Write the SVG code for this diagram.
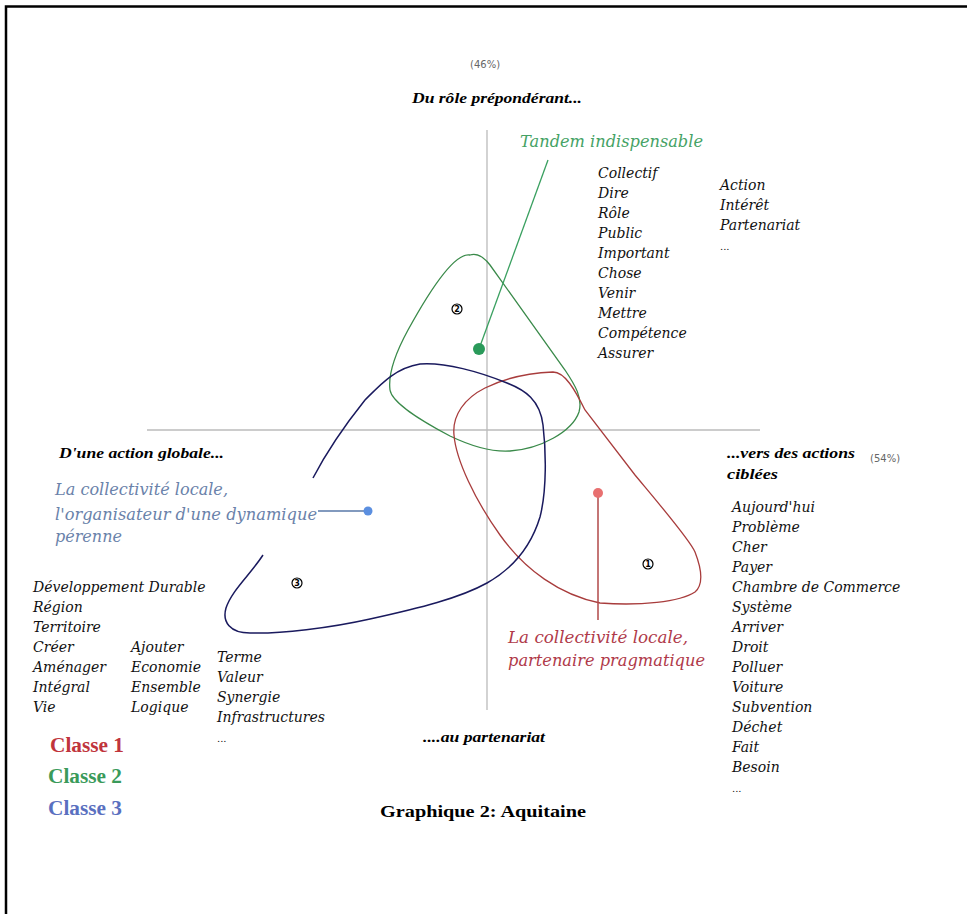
<svg xmlns="http://www.w3.org/2000/svg" width="967" height="914" viewBox="0 0 967 914">
<style>
.w{font-family:"DejaVu Serif","Liberation Serif",serif;font-style:italic;font-size:14px;fill:#111}
.h{font-family:"Liberation Serif","DejaVu Serif",serif;font-style:italic;font-weight:bold;font-size:15.5px;fill:#000}
.pc{font-family:"DejaVu Sans","Liberation Sans",sans-serif;font-size:10px;fill:#666}
.lab{font-family:"DejaVu Serif","Liberation Serif",serif;font-style:italic;font-size:16px}
.cls{font-family:"Liberation Serif","Times New Roman",serif;font-weight:bold;font-size:20px}
.num{font-family:"DejaVu Sans","Liberation Sans",sans-serif;font-size:8px;font-weight:bold;text-anchor:middle;fill:#000}
.axis{stroke:#bbbbbb;stroke-width:1.3;fill:none}
</style>
<rect width="967" height="914" fill="#fff"/>
<path d="M6,914 V6.5 H967" stroke="#000" stroke-width="2.5" fill="none"/>

<g id="axes">
<line class="axis" x1="487" y1="130" x2="487" y2="710"/>
<line class="axis" x1="147" y1="430" x2="760" y2="430"/>
</g>

<g id="connectors">
<path id="class2-curve" d="M470,255 C455,252 430,290 408,330 C396,352 388,375 390,390 C392,403 420,420 450,436 C475,448 495,452 510,451 C540,449 572,432 579,412 C583,398 575,385 565,370 L490,265 C483,256 476,253 470,255 Z" fill="none" stroke="#3a8a4a" stroke-width="1.3"/>
<path id="class1-curve" d="M553,372 C530,373 505,378 485,388 C465,398 452,415 454,435 C456,460 475,500 500,535 C525,570 560,595 600,603 C640,606 680,602 695,592 C703,585 702,570 695,552 C690,540 660,505 635,475 L585,410 C575,390 565,372 553,372 Z" fill="none" stroke="#a83c3c" stroke-width="1.3"/>
<path id="class3-curve" d="M313,478 C325,455 345,425 365,400 C380,385 395,368 420,364 C445,362 480,372 507,383 C525,390 540,400 543,425 C546,450 547,490 540,517 C530,550 510,570 487,583 C460,598 420,608 370,619 C330,628 280,634 250,633 C230,633 222,622 226,608 C232,590 250,575 263,555" fill="none" stroke="#1a1a5e" stroke-width="1.5"/>
<line x1="479" y1="349" x2="548" y2="160" stroke="#3aa060" stroke-width="1.3"/>
<line x1="598" y1="493" x2="598" y2="620" stroke="#b04848" stroke-width="1.5"/>
<line x1="318" y1="511" x2="368" y2="511" stroke="#5878a8" stroke-width="1.3"/>
</g>

<g id="markers">
<circle cx="479" cy="349" r="6" fill="#2a9a5a"/>
<circle cx="598" cy="493" r="5" fill="#e87070"/>
<circle cx="368" cy="511" r="4.5" fill="#5b8fe0"/>
<g id="n2"><circle cx="457" cy="309" r="5" fill="none" stroke="#000" stroke-width="1.2"/><text class="num" x="457" y="312">2</text></g>
<g id="n1"><circle cx="648" cy="564" r="5" fill="none" stroke="#000" stroke-width="1.2"/><text class="num" x="648" y="567">1</text></g>
<g id="n3"><circle cx="297" cy="583" r="5" fill="none" stroke="#000" stroke-width="1.2"/><text class="num" x="297" y="586">3</text></g>
</g>

<g id="axis-labels">
<text class="pc" x="470" y="68">(46%)</text>
<text class="h" x="412" y="103" textLength="170" lengthAdjust="spacingAndGlyphs">Du rôle prépondérant...</text>
<text class="h" x="59" y="458" textLength="165" lengthAdjust="spacingAndGlyphs">D'une action globale...</text>
<text class="h" x="727" y="458" textLength="128" lengthAdjust="spacingAndGlyphs">...vers des actions</text>
<text class="h" x="727" y="479" textLength="51" lengthAdjust="spacingAndGlyphs">ciblées</text>
<text class="pc" x="870" y="462">(54%)</text>
<text class="h" x="423" y="742" textLength="122" lengthAdjust="spacingAndGlyphs">....au partenariat</text>
</g>

<g id="label-class2">
<text class="lab" x="520" y="147" fill="#45a265" textLength="183" lengthAdjust="spacingAndGlyphs">Tandem indispensable</text>
</g>
<g id="label-class3" class="lab" fill="#6a82aa">
<text x="55" y="495" textLength="173" lengthAdjust="spacingAndGlyphs">La collectivité locale,</text>
<text x="55" y="520" textLength="262" lengthAdjust="spacingAndGlyphs">l'organisateur d'une dynamique</text>
<text x="55" y="542">pérenne</text>
</g>
<g id="label-class1" class="lab" fill="#b03a4a">
<text x="508" y="643" textLength="180" lengthAdjust="spacingAndGlyphs">La collectivité locale,</text>
<text x="508" y="666" textLength="197" lengthAdjust="spacingAndGlyphs">partenaire pragmatique</text>
</g>

<g id="words-top" class="w">
<text x="598" y="178">Collectif</text>
<text x="598" y="198">Dire</text>
<text x="598" y="218">Rôle</text>
<text x="598" y="238">Public</text>
<text x="598" y="258">Important</text>
<text x="598" y="278">Chose</text>
<text x="598" y="298">Venir</text>
<text x="598" y="318">Mettre</text>
<text x="598" y="338">Compétence</text>
<text x="598" y="358">Assurer</text>
<text x="720" y="190">Action</text>
<text x="720" y="210">Intérêt</text>
<text x="720" y="230">Partenariat</text>
<text x="720" y="250" font-size="10">...</text>
</g>

<g id="words-right" class="w">
<text x="732" y="512">Aujourd'hui</text>
<text x="732" y="532">Problème</text>
<text x="732" y="552">Cher</text>
<text x="732" y="572">Payer</text>
<text x="732" y="592">Chambre de Commerce</text>
<text x="732" y="612">Système</text>
<text x="732" y="632">Arriver</text>
<text x="732" y="652">Droit</text>
<text x="732" y="672">Polluer</text>
<text x="732" y="692">Voiture</text>
<text x="732" y="712">Subvention</text>
<text x="732" y="732">Déchet</text>
<text x="732" y="752">Fait</text>
<text x="732" y="772">Besoin</text>
<text x="732" y="792" font-size="10">...</text>
</g>

<g id="words-left" class="w">
<text x="33" y="592">Développement Durable</text>
<text x="33" y="612">Région</text>
<text x="33" y="632">Territoire</text>
<text x="33" y="652">Créer</text>
<text x="33" y="672">Aménager</text>
<text x="33" y="692">Intégral</text>
<text x="33" y="712">Vie</text>
<text x="131" y="652">Ajouter</text>
<text x="131" y="672">Economie</text>
<text x="131" y="692">Ensemble</text>
<text x="131" y="712">Logique</text>
<text x="217" y="662">Terme</text>
<text x="217" y="682">Valeur</text>
<text x="217" y="702">Synergie</text>
<text x="217" y="722">Infrastructures</text>
<text x="217" y="742" font-size="10">...</text>
</g>

<g id="legend" class="cls">
<text x="50" y="752" fill="#c0343c" textLength="74" lengthAdjust="spacingAndGlyphs">Classe 1</text>
<text x="48" y="783" fill="#3a9a5a" textLength="74" lengthAdjust="spacingAndGlyphs">Classe 2</text>
<text x="48" y="815" fill="#5a70c0" textLength="74" lengthAdjust="spacingAndGlyphs">Classe 3</text>
</g>

<text x="380" y="817" font-family="Liberation Serif, serif" font-weight="bold" font-size="17px" fill="#000" textLength="206" lengthAdjust="spacingAndGlyphs">Graphique 2: Aquitaine</text>
</svg>
